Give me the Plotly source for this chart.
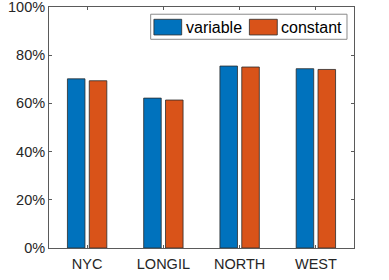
import plotly.graph_objects as go

categories = ["NYC", "LONGIL", "NORTH", "WEST"]
variable = [0.702, 0.622, 0.755, 0.744]
constant = [0.694, 0.614, 0.751, 0.741]
series_names = ["variable", "constant"]
colors = ["#0072BD", "#D95319"]
y_ticks = [0, 0.2, 0.4, 0.6, 0.8, 1.0]
y_ticklabels = ["0%", "20%", "40%", "60%", "80%", "100%"]

font = "Liberation Sans, Arial, Helvetica, sans-serif"
axis_col = "#5a5a5a"
text_col = "#262626"

fig = go.Figure()
for name, vals, col in zip(series_names, [variable, constant], colors):
    fig.add_trace(go.Bar(x=categories, y=vals, name=name, marker_color=col,
                         marker_line_color="#2b2b2b", marker_line_width=0.8,
                         showlegend=False))

# manual legend in paper coords (MATLAB-style)
fig.add_shape(type="rect", xref="paper", yref="paper", x0=0.3334, x1=0.977, y0=0.866, y1=0.970,
              line=dict(color="#8a8a8a", width=1), fillcolor="white")
swatch_x = [(0.344, 0.435), (0.657, 0.7485)]
text_x = [0.444, 0.755]
for (x0, x1), tx, name, col in zip(swatch_x, text_x, series_names, colors):
    fig.add_shape(type="rect", xref="paper", yref="paper", x0=x0, x1=x1, y0=0.884, y1=0.949,
                  line=dict(color="#2b2b2b", width=0.8), fillcolor=col)
    fig.add_annotation(xref="paper", yref="paper", x=tx, y=0.917, text=name, showarrow=False,
                       xanchor="left", yanchor="middle", font=dict(family=font, size=16, color="#000"))

fig.update_layout(
    width=389, height=280,
    margin=dict(l=49, r=35, t=7, b=32, autoexpand=False),
    paper_bgcolor="white", plot_bgcolor="white",
    barmode="group", bargap=0.427, bargroupgap=0.197,
    font=dict(family=font, size=14.5, color=text_col),
    showlegend=False,
)
fig.update_xaxes(showline=True, linecolor=axis_col, linewidth=1, mirror="ticks",
                 ticks="inside", ticklen=3, tickcolor=axis_col, showgrid=False, automargin=False,
                 ticklabelstandoff=3,
                 range=[-0.5, 3.5], tickfont=dict(size=14.5, color=text_col))
fig.update_yaxes(showline=True, linecolor=axis_col, linewidth=1, mirror="ticks",
                 ticks="inside", ticklen=3, tickcolor=axis_col, showgrid=False, zeroline=False,
                 automargin=False, range=[0, 1.0001], ticklabeloverflow="allow",
                 tickvals=y_ticks, ticktext=y_ticklabels, tickfont=dict(size=14.5, color=text_col))

fig.write_html("out.html", config={"displayModeBar": False},
               post_script="document.body.style.margin='0';document.body.style.overflow='hidden';")
